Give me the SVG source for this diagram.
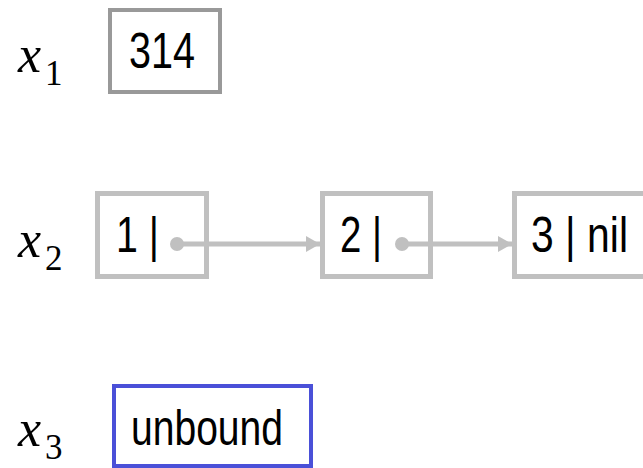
<svg xmlns="http://www.w3.org/2000/svg" width="643" height="468" viewBox="0 0 643 468">
  <defs>
    <style>
      .var { font-family: "Liberation Serif", "Times New Roman", serif; font-style: italic; font-size: 52px; fill: #000; }
      .sub { font-family: "Liberation Serif", "Times New Roman", serif; font-size: 35px; fill: #000; }
      .val { font-family: "Liberation Sans Narrow", "Arial Narrow", "Liberation Sans", sans-serif; font-size: 50px; fill: #000; }
      .cell { fill: #ffffff; stroke: #c0c0c0; stroke-width: 5; }
      .link { stroke: #c0c0c0; stroke-width: 5; fill: none; }
      .dot { fill: #c0c0c0; }
    </style>
    <marker id="arrow" viewBox="0 0 14 16" refX="14" refY="8" markerWidth="14" markerHeight="16" markerUnits="userSpaceOnUse" orient="auto">
      <path d="M0,0 L14,8 L0,16 Z" fill="#c0c0c0"/>
    </marker>
  </defs>
  <rect width="643" height="468" fill="#ffffff"/>

  <g id="x1">
    <text class="var" x="18" y="72">x</text>
    <text class="sub" x="45" y="85">1</text>
    <rect x="110" y="10" width="110" height="82" fill="#ffffff" stroke="#999999" stroke-width="4"/>
    <text class="val" x="129" y="68" textLength="66" lengthAdjust="spacingAndGlyphs">314</text>
  </g>

  <g id="x2">
    <text class="var" x="18" y="257">x</text>
    <text class="sub" x="45" y="270">2</text>
  </g>

  <g id="cell1">
    <rect class="cell" x="97.5" y="193.5" width="109" height="83"/>
    <text class="val" x="116" y="252" textLength="43" lengthAdjust="spacingAndGlyphs">1 |</text>
    <circle class="dot" cx="177" cy="244" r="7"/>
  </g>

  <g id="cell2">
    <rect class="cell" x="322.5" y="193.5" width="108" height="83"/>
    <text class="val" x="340" y="252" textLength="42" lengthAdjust="spacingAndGlyphs">2 |</text>
    <circle class="dot" cx="402" cy="244" r="7"/>
  </g>

  <g id="cell3">
    <rect class="cell" x="514.5" y="193.5" width="140" height="83"/>
    <text class="val" x="531" y="252" textLength="97" lengthAdjust="spacingAndGlyphs">3 | nil</text>
  </g>

  <g id="connectors">
    <line class="link" x1="177" y1="244" x2="320" y2="244" marker-end="url(#arrow)"/>
    <line class="link" x1="402" y1="244" x2="512" y2="244" marker-end="url(#arrow)"/>
  </g>

  <g id="x3">
    <text class="var" x="18" y="446">x</text>
    <text class="sub" x="45" y="459">3</text>
    <rect x="114" y="386" width="197" height="80" fill="#ffffff" stroke="#4a50d8" stroke-width="4"/>
    <text class="val" x="131" y="445" textLength="152" lengthAdjust="spacingAndGlyphs">unbound</text>
  </g>
</svg>
